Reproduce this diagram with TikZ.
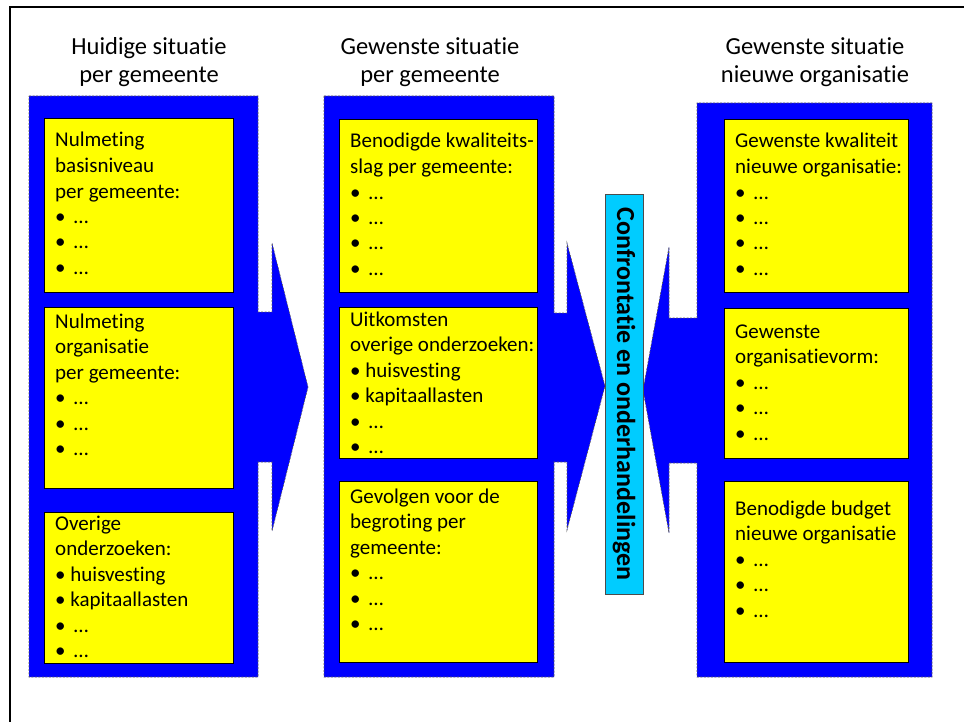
\documentclass[tikz,border=0pt]{standalone}
\usepackage{fontspec}
\setmainfont{Carlito}[Ligatures=NoCommon]
\usepackage{xcolor}
\definecolor{calloutblue}{RGB}{0,0,255}
\definecolor{noteyellow}{RGB}{255,255,0}
\definecolor{barcyan}{RGB}{0,204,255}

\begin{document}
\begin{tikzpicture}[x=1pt,y=-1pt,
		callout/.style={fill=calloutblue,draw=black!65,dash pattern=on 2pt off 1.5pt,line width=0.6pt},
		notebox/.style={fill=noteyellow,draw=black,line width=0.8pt},
		notetext/.style={anchor=base west,align=left,inner sep=0pt,font=\fontsize{21}{25.5}\selectfont},
		headtext/.style={anchor=base,align=center,inner sep=0pt,font=\fontsize{24.5}{28}\selectfont}]
			
			\clip (0,0) rectangle (964,722);
			\draw[line width = 2pt] (10,7) rectangle (990,750);
			
			% column titles (anchored at the baseline of the last line)
			\node[headtext] (huidig) at (149,83) {Huidige situatie\\per gemeente};
			\node[headtext] (gewenst) at (430,83) {Gewenste situatie\\per gemeente};
			\node[headtext] (nieuw) at (815,83) {Gewenste situatie\\nieuwe organisatie};
			
			% blue callouts
			\draw[callout] (29,96) -- (258,96) -- (258,312) -- (272,312) -- (272,243) -- (308,387) -- (272,531) -- (272,462) -- (258,462) -- (258,677) -- (29,677) -- cycle;
			\draw[callout] (324,96) -- (554,96) -- (554,313) -- (567,313) -- (567,243) -- (605,386) -- (567,530) -- (567,462) -- (554,462) -- (554,677) -- (324,677) -- cycle;
			\draw[callout] (932,103) -- (697,103) -- (697,318) -- (669,318) -- (669,247) -- (643,390) -- (669,533) -- (669,463) -- (697,463) -- (697,677) -- (932,677) -- cycle;
			
			% yellow boxes
			\draw[notebox] (44,118) rectangle (233,292);
			\draw[notebox] (44,307) rectangle (233,488);
			\draw[notebox] (44,512) rectangle (233,663);
			
			\draw[notebox] (339,119) rectangle (537,292);
			\draw[notebox] (339,307) rectangle (537,458);
			\draw[notebox] (339,481) rectangle (537,662);
			
			\draw[notebox] (724,119) rectangle (908,292);
			\draw[notebox] (724,308) rectangle (908,458);
			\draw[notebox] (724,481) rectangle (908,662);
			
			% box texts (anchored at the baseline of the last line)
			\node[notetext] (basis) at (55,274.5) {Nulmeting\\basisniveau\\per gemeente:\\•\, …\\•\, …\\•\, …};
			\node[notetext] (organ) at (55,455.5) {Nulmeting\\organisatie\\per gemeente:\\•\, …\\•\, …\\•\, …};
			\node[notetext] (overig) at (55,657.5) {Overige\\onderzoeken:\\• huisvesting\\• kapitaallasten\\•\, …\\•\, …};
			
			\node[notetext] (kwslag) at (350,275.5) {Benodigde kwaliteits-\\slag per gemeente:\\•\, …\\•\, …\\•\, …\\•\, …};
			\node[notetext] (uitkomst) at (350,453.5) {Uitkomsten\\overige onderzoeken:\\• huisvesting\\• kapitaallasten\\•\, …\\•\, …};
			\node[notetext] (gevolg) at (350,630.5) {Gevolgen voor de\\begroting per\\gemeente:\\•\, …\\•\, …\\•\, …};
			
			\node[notetext] (kwal) at (735,275.5) {Gewenste kwaliteit\\nieuwe organisatie:\\•\, …\\•\, …\\•\, …\\•\, …};
			\node[notetext] (vorm) at (735,440) {Gewenste\\organisatievorm:\\•\, …\\•\, …\\•\, …};
			\node[notetext] (budget) at (735,617) {Benodigde budget\\nieuwe organisatie\\•\, …\\•\, …\\•\, …};
			
			% confrontation bar
			\draw[fill=barcyan,draw=black!70,line width=0.6pt] (605,194) rectangle (643,594);
			\node[rotate=-90,font=\fontsize{26}{30}\bfseries\selectfont] (confront) at (624,394) {Confrontatie en onderhandelingen};
			
		\end{tikzpicture}
\end{document}
